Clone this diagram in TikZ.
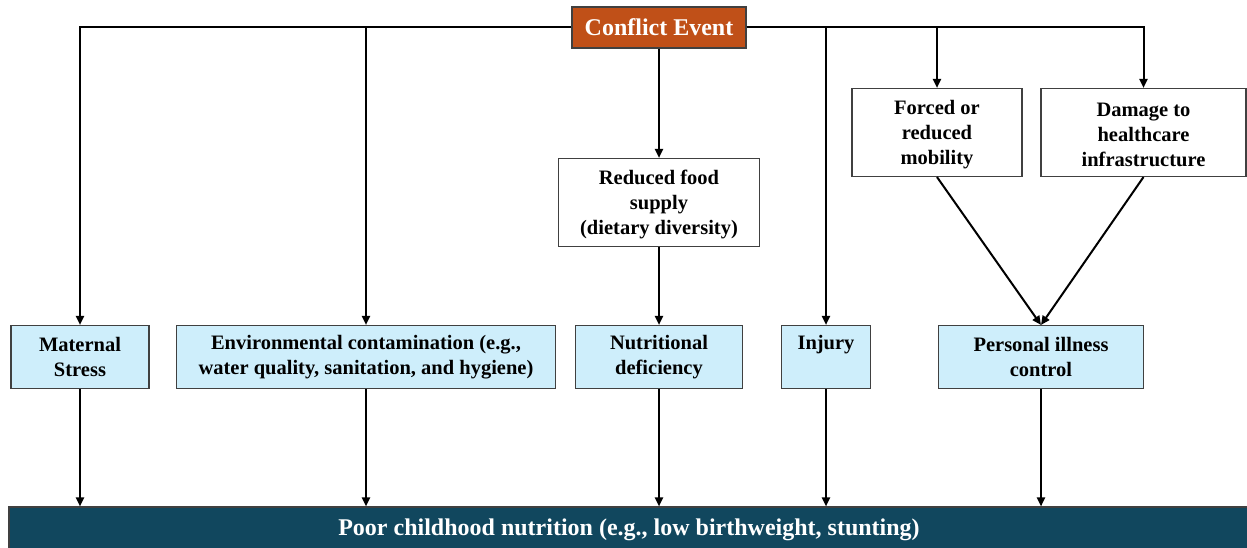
\documentclass[tikz,border=0pt]{standalone}
\usepackage{fontspec}
\setmainfont{Liberation Serif}
\usetikzlibrary{arrows.meta}
\definecolor{conflictfill}{RGB}{192,80,24}
\definecolor{barfill}{RGB}{17,71,94}
\definecolor{lightbox}{RGB}{206,238,251}
\definecolor{boxline}{RGB}{64,64,64}
\begin{document}
\begin{tikzpicture}[x=1bp,y=-1bp,
  base/.style={draw=boxline,line width=1.1bp,align=center,inner sep=0pt,
    font=\bfseries\fontsize{20.5bp}{25bp}\selectfont},
  whitebox/.style={base,fill=white,minimum height=88bp},
  bluebox/.style={base,fill=lightbox,minimum height=63bp},
  conn/.style={line width=2bp,-{Triangle[length=9bp,width=8bp]}}]
\useasboundingbox (0,0) rectangle (1247,548);
\node[base,fill=conflictfill,text=white,minimum width=174bp,minimum height=41bp,
  font=\bfseries\fontsize{24bp}{28bp}\selectfont] (conflict) at (659,27.5) {Conflict Event};
\node[whitebox,minimum width=201bp] (food) at (659,202.5) {\rule{0pt}{18bp}Reduced food\\supply\\(dietary diversity)};
\node[whitebox,minimum width=170bp] (forced) at (937,132.5) {\rule{0pt}{18bp}Forced or\\reduced\\mobility};
\node[whitebox,minimum width=205bp] (damage) at (1143.5,132.5) {\rule{0pt}{18bp}Damage to\\healthcare\\infrastructure};
\node[bluebox,minimum width=138bp] (maternal) at (80,357) {Maternal\\Stress};
\node[bluebox,minimum width=379bp] (env) at (366,357) {Environmental contamination (e.g.,\\water quality, sanitation, and hygiene)};
\node[bluebox,minimum width=167bp] (nutr) at (659,357) {Nutritional\\deficiency};
\node[bluebox,minimum width=89bp] (injury) at (826,357) {Injury\\\phantom{y}};
\node[bluebox,minimum width=205bp] (personal) at (1041,357) {Personal illness\\control};
\node[base,fill=barfill,text=white,minimum width=1240bp,minimum height=46bp,
  font=\bfseries\fontsize{24bp}{28bp}\selectfont] (bottom) at (629,530)
  {\raisebox{2bp}{Poor childhood nutrition (e.g., low birthweight, stunting)}};
% top connectors
\draw[conn] (conflict.west) -| (maternal.north);
\draw[conn] (conflict.west) -| (env.north);
\draw[conn] (conflict.east) -| (injury.north);
\draw[conn] (conflict.east) -| (forced.north);
\draw[conn] (conflict.east) -| (damage.north);
\draw[conn] (conflict.south) -- (food.north);
\draw[conn] (food.south) -- (nutr.north);
\draw[conn] (forced.south) -- (personal.north);
\draw[conn] (damage.south) -- (personal.north);
% to bottom
\foreach \n in {maternal,env,nutr,injury,personal}
  \draw[conn] (\n.south) -- (\n.south |- bottom.north);
\end{tikzpicture}
\end{document}
